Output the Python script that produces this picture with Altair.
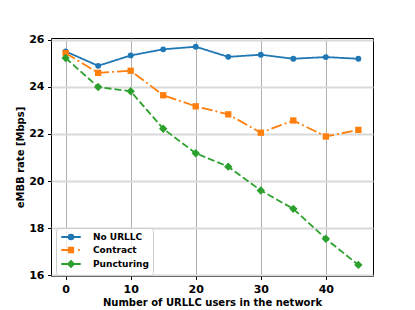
import altair as alt
import pandas as pd

users = [0, 5, 10, 15, 20, 25, 30, 35, 40, 45]
no_urllc = [25.50, 24.89, 25.33, 25.59, 25.70, 25.27, 25.36, 25.19, 25.26, 25.19]
contract = [25.43, 24.59, 24.68, 23.64, 23.17, 22.83, 22.05, 22.57, 21.89, 22.17]
puncturing = [25.22, 23.99, 23.81, 22.22, 21.18, 20.61, 19.60, 18.82, 17.55, 16.44]

series = ["No URLLC", "Contract", "Puncturing"]
colors = ["#1f77b4", "#ff7f0e", "#2ca02c"]
dashes = [[1, 0], [11, 3, 2, 3], [7, 3]]
marker_shapes = ["circle", "square", "diamond"]
marker_sizes = [34, 40, 70]

# legend symbols: short line + marker (units scaled by sqrt(symbolSize)/2)
legend_paths = [
    "M-2.44,0H2.44M-0.6,0A0.6,0.6 0 1,1 0.6,0A0.6,0.6 0 1,1 -0.6,0Z",
    "M-2.44,0H0M1.8,0H2.2M-0.56,-0.56H0.56V0.56H-0.56Z",
    "M-2.44,0H2.44M0,-0.75L0.75,0L0,0.75L-0.75,0Z",
]

rows = []
for name, vals in zip(series, [no_urllc, contract, puncturing]):
    for u, v in zip(users, vals):
        rows.append({"users": u, "rate": v, "series": name})
df = pd.DataFrame(rows)

x_enc = alt.X(
    "users:Q",
    scale=alt.Scale(domain=[-2.25, 47.25], nice=False, zero=False),
    axis=alt.Axis(
        values=[0, 10, 20, 30, 40],
        title="Number of URLLC users in the network",
        gridColor="#b0b0b0",
        gridWidth=1,
    ),
)
y_enc = alt.Y(
    "rate:Q",
    scale=alt.Scale(domain=[15.97, 26.07], nice=False, zero=False),
    axis=alt.Axis(
        values=[16, 18, 20, 22, 24, 26],
        title="eMBB rate [Mbps]",
        gridColor="#d9d9d9",
        gridWidth=2,
    ),
)

base = alt.Chart(df)

layers = []
for name, col, dash in zip(series, colors, dashes):
    layers.append(
        base.transform_filter(alt.datum.series == name)
        .mark_line(strokeWidth=1.8, color=col, strokeDash=dash)
        .encode(x=x_enc, y=y_enc)
    )
for name, col, shp, sz in zip(series, colors, marker_shapes, marker_sizes):
    layers.append(
        base.transform_filter(alt.datum.series == name)
        .mark_point(shape=shp, filled=True, size=sz, opacity=1, color=col)
        .encode(x="users:Q", y="rate:Q")
    )

leg = alt.Legend(
    title=None,
    orient="none",
    legendX=5,
    legendY=190,
    symbolSize=64,
    symbolStrokeWidth=1.8,
    symbolOffset=6,
    symbolOpacity=1,
    labelOffset=17,
    padding=4,
    rowPadding=1,
    labelFont="DejaVu Sans",
    labelFontSize=9,
    labelFontWeight="bold",
    labelColor="black",
    fillColor="rgba(255,255,255,0.8)",
    strokeColor="#cccccc",
    cornerRadius=3,
)

color_scale = alt.Scale(domain=series, range=colors)
legend_layer = base.mark_point(filled=True, opacity=0).encode(
    x="users:Q",
    y="rate:Q",
    color=alt.Color("series:N", scale=color_scale, legend=leg),
    stroke=alt.Stroke("series:N", scale=color_scale, legend=leg),
    shape=alt.Shape(
        "series:N", scale=alt.Scale(domain=series, range=legend_paths), legend=leg
    ),
)
layers.append(legend_layer)

chart = (
    alt.layer(*layers)
    .properties(
        width=322,
        height=238,
        autosize=alt.AutoSizeParams(type="none"),
        padding={"left": 43, "top": 30, "right": 30, "bottom": 34},
    )
    .configure(font="DejaVu Sans", background="white")
    .configure_view(stroke="black", strokeWidth=1)
    .configure_axis(
        domain=False,
        labelFont="DejaVu Sans",
        labelFontSize=11,
        labelFontWeight="bold",
        labelColor="black",
        tickColor="black",
        tickSize=3.5,
        tickWidth=1,
        labelPadding=3.5,
        titleFont="DejaVu Sans",
        titleFontSize=10,
        titleFontWeight="bold",
        titleColor="black",
        titlePadding=3,
    )
)

chart.save("out.html", embed_options={"renderer": "svg", "actions": False})
